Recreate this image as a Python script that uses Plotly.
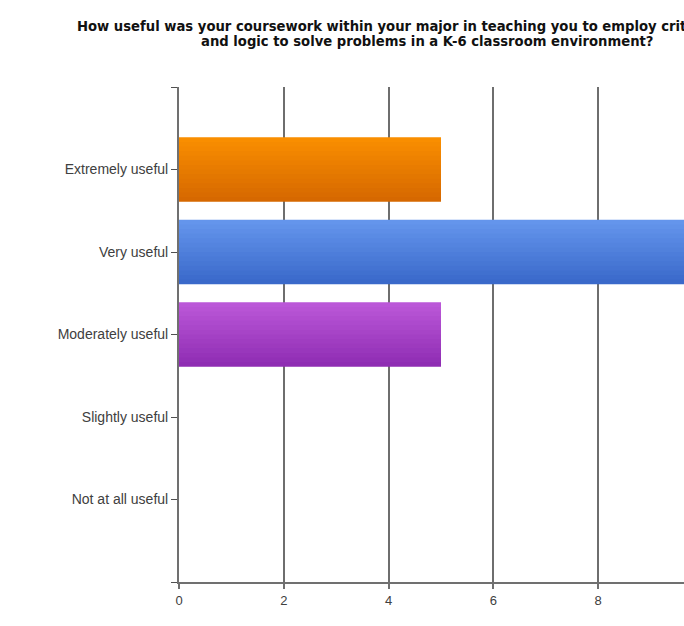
import plotly.graph_objects as go

# Survey responses
categories = ["Extremely useful", "Very useful", "Moderately useful",
              "Slightly useful", "Not at all useful"]
counts = [5, 10, 5, 0, 0]
x_tick_values = [0, 2, 4, 6, 8]

# top / bottom colours of each bar's vertical gradient
bar_top = ["#f98e00", "#6495ec", "#bb57d8", "#999999", "#999999"]
bar_bottom = ["#d66800", "#3a69ca", "#8f2db3", "#777777", "#777777"]

title_lines = ["How useful was your coursework within your major in teaching you to employ critical thinking",
               "and logic to solve problems in a K-6 classroom environment?"]


def mix(c1, c2, t):
    a = [int(c1[i:i + 2], 16) for i in (1, 3, 5)]
    b = [int(c2[i:i + 2], 16) for i in (1, 3, 5)]
    return "#" + "".join(f"{round(x + (y - x) * t):02x}" for x, y in zip(a, b))


positions = list(range(len(categories)))
bar_width = 0.78
n_strips = 14
strip = bar_width / n_strips

fig = go.Figure()
# each bar is painted as overlapping horizontal strips for a top-to-bottom gradient
for k in range(n_strips):
    t = k / (n_strips - 1)
    off = -bar_width / 2 + k * strip
    w = min(strip * 1.7, bar_width / 2 - off)
    fig.add_trace(go.Bar(
        x=counts,
        y=positions,
        orientation="h",
        width=w,
        offset=off,
        marker=dict(color=[mix(a, b, t) for a, b in zip(bar_top, bar_bottom)],
                    line=dict(width=0)),
        showlegend=False,
        hoverinfo="skip",
    ))

label_font = dict(family="Liberation Sans, Arial, sans-serif", size=14, color="#404040")
num_font = dict(family="Liberation Sans, Arial, sans-serif", size=13, color="#404040")
title_font = dict(family="DejaVu Sans, sans-serif", size=13.2, color="#111111")

plot_top, plot_bottom = 87, 582
for line, ypx in zip(title_lines, [26.5, 41.5]):
    fig.add_annotation(
        text=f"<b>{line}</b>",
        xref="paper", yref="paper",
        x=(427.5 - 179) / 505, xanchor="center",
        y=(plot_bottom - ypx) / (plot_bottom - plot_top), yanchor="middle",
        showarrow=False,
        font=title_font,
    )

fig.update_layout(
    width=684,
    height=626,
    margin=dict(l=179, r=0, t=87, b=44),
    paper_bgcolor="white",
    plot_bgcolor="white",
    barmode="overlay",
    xaxis=dict(
        range=[0, 505 / 52.4],
        tickvals=x_tick_values,
        ticktext=[str(v) for v in x_tick_values],
        showgrid=True,
        gridcolor="#6e6e6e",
        gridwidth=1.5,
        zeroline=False,
        showline=True,
        linecolor="#707070",
        linewidth=2,
        ticks="outside",
        ticklen=5,
        tickwidth=1.5,
        tickcolor="#707070",
        tickfont=num_font,
        fixedrange=True,
    ),
    yaxis=dict(
        range=[len(categories), -1],
        tickvals=[-1] + positions + [len(categories)],
        ticktext=[""] + categories + [""],
        showgrid=False,
        zeroline=False,
        showline=True,
        linecolor="#707070",
        linewidth=2,
        ticks="outside",
        ticklen=6,
        tickwidth=1.2,
        tickcolor="#505050",
        tickfont=label_font,
        fixedrange=True,
    ),
)

fig.write_html("out.html", config={"displayModeBar": False})
